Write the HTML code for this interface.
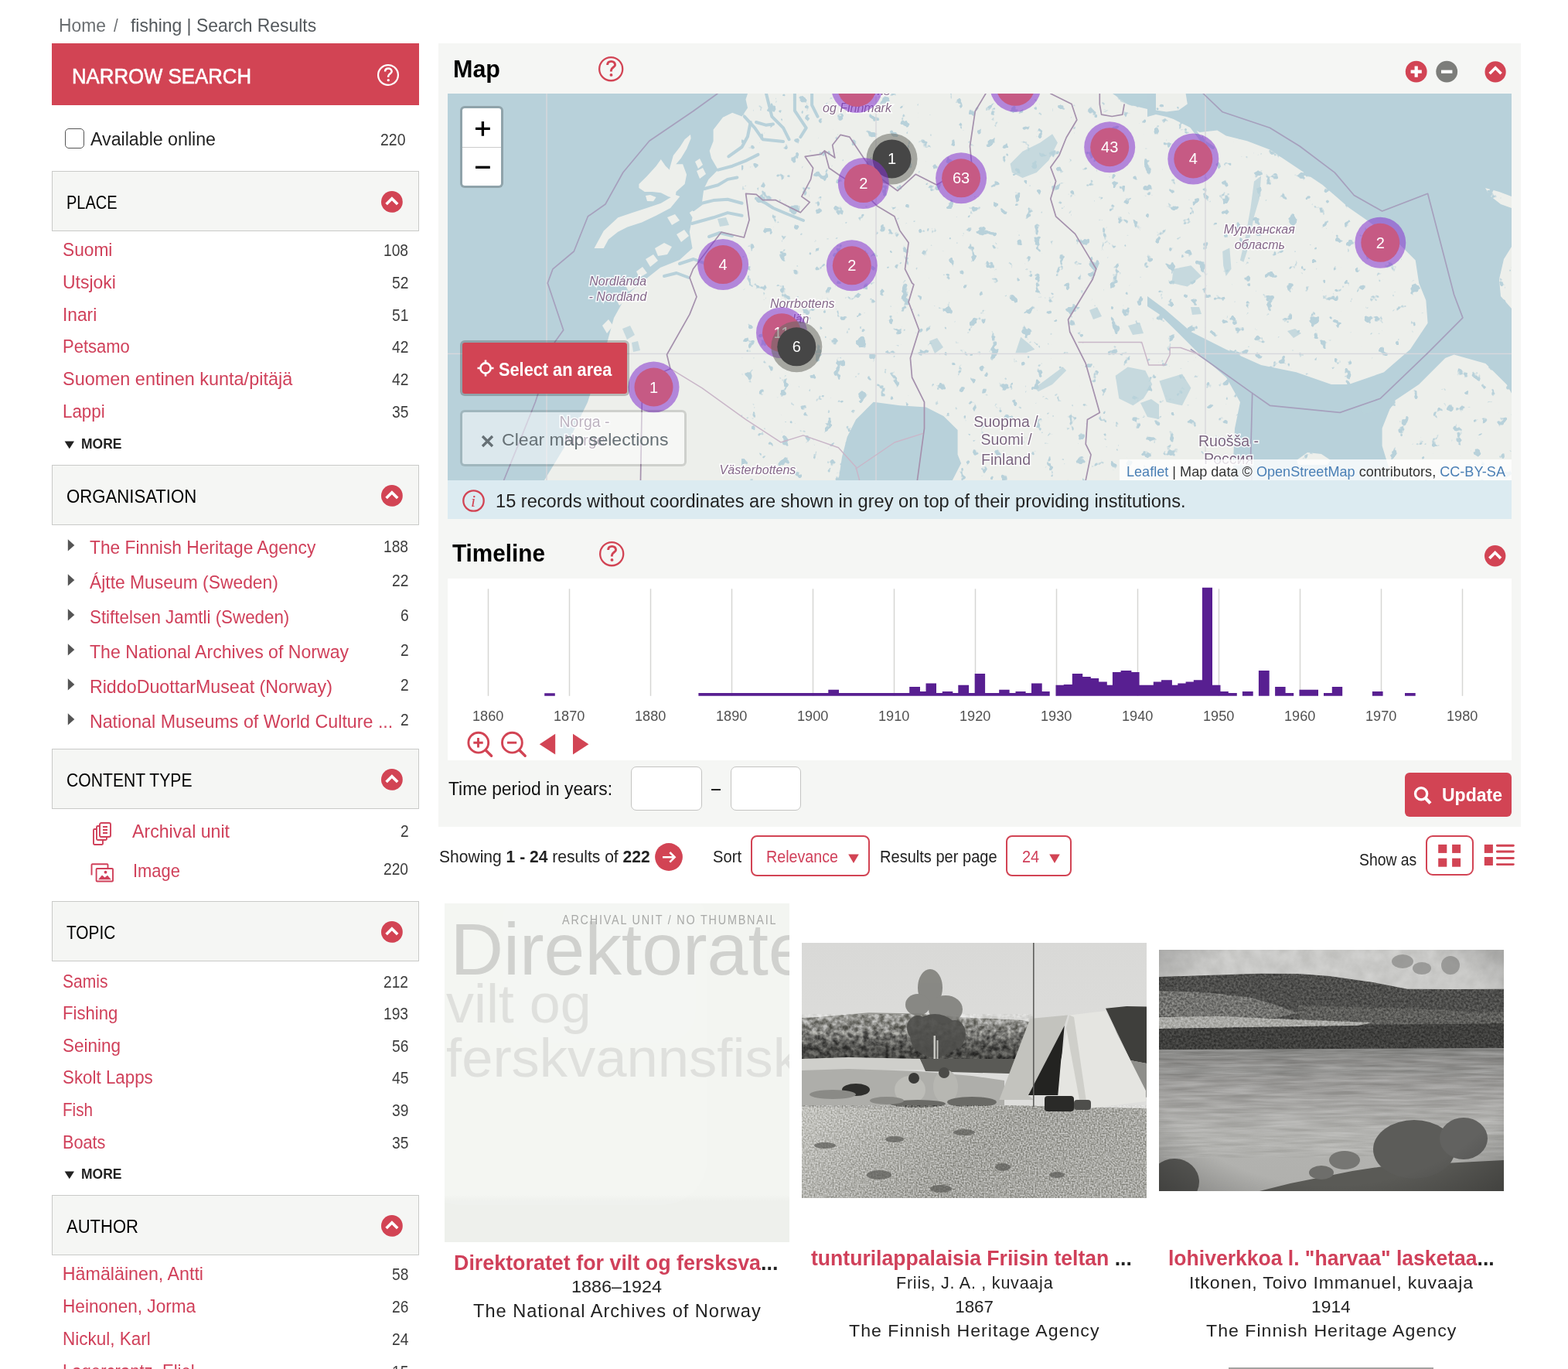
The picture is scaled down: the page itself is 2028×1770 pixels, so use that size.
<!DOCTYPE html>
<html><head><meta charset="utf-8"><title>fishing | Search Results</title>
<style>
html,body{margin:0;padding:0;background:#fff;}
body{width:2028px;height:1770px;overflow:hidden;position:relative;font-family:'Liberation Sans', Arial, sans-serif;}
.t{position:absolute;white-space:nowrap;}
b{font-weight:700;}
</style></head><body>
<div class="t" style="left:76.3px;top:21.5px;font-family:'Liberation Sans', Arial, sans-serif;font-size:23.26px;font-weight:400;line-height:23.26px;color:#6a6e71;transform:scaleX(0.9818);transform-origin:0 0;">Home</div>
<div class="t" style="left:146.6px;top:21.5px;font-family:'Liberation Sans', Arial, sans-serif;font-size:23.26px;font-weight:400;line-height:23.26px;color:#6a6e71;transform:scaleX(0.8812);transform-origin:0 0;">/</div>
<div class="t" style="left:168.6px;top:21.5px;font-family:'Liberation Sans', Arial, sans-serif;font-size:23.26px;font-weight:400;line-height:23.26px;color:#53585c;transform:scaleX(0.9851);transform-origin:0 0;">fishing | Search Results</div>
<div style="position:absolute;left:67.0px;top:56.0px;width:475.0px;height:80.0px;background:#d24454"></div>
<div class="t" style="left:93.4px;top:83.8px;font-family:'Liberation Sans', Arial, sans-serif;font-size:28.34px;font-weight:400;line-height:28.34px;color:#fff;transform:scaleX(0.9099);transform-origin:0 0;-webkit-text-stroke:0.6px #fff;">NARROW SEARCH</div>
<svg style="position:absolute;left:486.0px;top:80.9px" width="32.0" height="32.0" viewBox="-16.0 -16.0 32.0 32.0"><circle r="12.90" fill="none" stroke="#fff" stroke-width="2.2"/><g transform="scale(0.875)"><path d="M-4.5 -5.2C-4.5 -8.5 -2 -9.7 0.4 -9.7C3.3 -9.7 5.3 -7.8 5.3 -5.2C5.3 -2.3 0.2 -1.8 0.2 1.8V3.2" fill="none" stroke="#fff" stroke-width="2.9"/><circle cx="0.3" cy="7.6" r="1.9" fill="#fff"/></g></svg>
<div style="position:absolute;left:84.3px;top:166.3px;width:22.6px;height:23.6px;border:1.5px solid #555;border-radius:5px;background:#fff"></div>
<div class="t" style="left:117.4px;top:168.4px;font-family:'Liberation Sans', Arial, sans-serif;font-size:24.42px;font-weight:400;line-height:24.42px;color:#212121;transform:scaleX(0.9500);transform-origin:0 0;">Available online</div>
<div class="t" style="left:492.2px;top:170.4px;font-family:'Liberation Sans', Arial, sans-serif;font-size:22.09px;font-weight:400;line-height:22.09px;color:#3d3d3d;transform:scaleX(0.8821);transform-origin:0 0;">220</div>
<div style="position:absolute;left:67.0px;top:221.4px;width:475.0px;height:77.2px;background:#f5f6f4;border:1.3px solid #c9cac8;box-sizing:border-box"></div>
<div class="t" style="left:86.3px;top:251.0px;font-family:'Liberation Sans', Arial, sans-serif;font-size:23.26px;font-weight:400;line-height:23.26px;color:#000;transform:scaleX(0.8590);transform-origin:0 0;">PLACE</div>
<svg style="position:absolute;left:491.9px;top:245.8px" width="29.8" height="29.8" viewBox="-14.9 -14.9 29.8 29.8"><circle r="13.9" fill="#d24454"/><path d="M-7.3 3.2 L0 -4.1 L7.3 3.2" stroke="#fff" stroke-width="3.6" fill="none"/></svg>
<div class="t" style="left:80.8px;top:312.3px;font-family:'Liberation Sans', Arial, sans-serif;font-size:23.26px;font-weight:400;line-height:23.26px;color:#d0405a;transform:scaleX(0.9771);transform-origin:0 0;">Suomi</div>
<div class="t" style="left:496.2px;top:313.3px;font-family:'Liberation Sans', Arial, sans-serif;font-size:22.09px;font-weight:400;line-height:22.09px;color:#3d3d3d;transform:scaleX(0.8700);transform-origin:0 0;">108</div>
<div class="t" style="left:80.8px;top:354.0px;font-family:'Liberation Sans', Arial, sans-serif;font-size:23.26px;font-weight:400;line-height:23.26px;color:#d0405a;transform:scaleX(0.9862);transform-origin:0 0;">Utsjoki</div>
<div class="t" style="left:506.9px;top:355.0px;font-family:'Liberation Sans', Arial, sans-serif;font-size:22.09px;font-weight:400;line-height:22.09px;color:#3d3d3d;transform:scaleX(0.8700);transform-origin:0 0;">52</div>
<div class="t" style="left:80.8px;top:395.7px;font-family:'Liberation Sans', Arial, sans-serif;font-size:23.26px;font-weight:400;line-height:23.26px;color:#d0405a;transform:scaleX(0.9771);transform-origin:0 0;">Inari</div>
<div class="t" style="left:506.9px;top:396.7px;font-family:'Liberation Sans', Arial, sans-serif;font-size:22.09px;font-weight:400;line-height:22.09px;color:#3d3d3d;transform:scaleX(0.8700);transform-origin:0 0;">51</div>
<div class="t" style="left:80.8px;top:437.4px;font-family:'Liberation Sans', Arial, sans-serif;font-size:23.26px;font-weight:400;line-height:23.26px;color:#d0405a;transform:scaleX(0.9459);transform-origin:0 0;">Petsamo</div>
<div class="t" style="left:506.9px;top:438.4px;font-family:'Liberation Sans', Arial, sans-serif;font-size:22.09px;font-weight:400;line-height:22.09px;color:#3d3d3d;transform:scaleX(0.8700);transform-origin:0 0;">42</div>
<div class="t" style="left:80.8px;top:479.1px;font-family:'Liberation Sans', Arial, sans-serif;font-size:23.26px;font-weight:400;line-height:23.26px;color:#d0405a;transform:scaleX(1.0084);transform-origin:0 0;">Suomen entinen kunta/pitäjä</div>
<div class="t" style="left:506.9px;top:480.1px;font-family:'Liberation Sans', Arial, sans-serif;font-size:22.09px;font-weight:400;line-height:22.09px;color:#3d3d3d;transform:scaleX(0.8700);transform-origin:0 0;">42</div>
<div class="t" style="left:80.8px;top:520.8px;font-family:'Liberation Sans', Arial, sans-serif;font-size:23.26px;font-weight:400;line-height:23.26px;color:#d0405a;transform:scaleX(0.9615);transform-origin:0 0;">Lappi</div>
<div class="t" style="left:506.9px;top:521.8px;font-family:'Liberation Sans', Arial, sans-serif;font-size:22.09px;font-weight:400;line-height:22.09px;color:#3d3d3d;transform:scaleX(0.8700);transform-origin:0 0;">35</div>
<svg style="position:absolute;left:83px;top:569.6px" width="14" height="11"><path d="M0.6 0.5 L13 0.5 L6.8 10.2Z" fill="#222"/></svg>
<div class="t" style="left:105.3px;top:564.8px;font-family:'Liberation Sans', Arial, sans-serif;font-size:18.75px;font-weight:700;line-height:18.75px;color:#222;transform:scaleX(0.9333);transform-origin:0 0;">MORE</div>
<div style="position:absolute;left:67.0px;top:601.1px;width:475.0px;height:77.7px;background:#f5f6f4;border:1.3px solid #c9cac8;box-sizing:border-box"></div>
<div class="t" style="left:86.3px;top:630.7px;font-family:'Liberation Sans', Arial, sans-serif;font-size:23.26px;font-weight:400;line-height:23.26px;color:#000;transform:scaleX(0.9527);transform-origin:0 0;">ORGANISATION</div>
<svg style="position:absolute;left:491.9px;top:625.5px" width="29.8" height="29.8" viewBox="-14.9 -14.9 29.8 29.8"><circle r="13.9" fill="#d24454"/><path d="M-7.3 3.2 L0 -4.1 L7.3 3.2" stroke="#fff" stroke-width="3.6" fill="none"/></svg>
<svg style="position:absolute;left:86.5px;top:697.4px" width="10" height="16"><path d="M0.8 0.3 L9.3 7.9 L0.8 15.5Z" fill="#555"/></svg>
<div class="t" style="left:115.9px;top:697.3px;font-family:'Liberation Sans', Arial, sans-serif;font-size:23.26px;font-weight:400;line-height:23.26px;color:#d0405a;transform:scaleX(0.9791);transform-origin:0 0;">The Finnish Heritage Agency</div>
<div class="t" style="left:496.2px;top:695.5px;font-family:'Liberation Sans', Arial, sans-serif;font-size:22.09px;font-weight:400;line-height:22.09px;color:#3d3d3d;transform:scaleX(0.8700);transform-origin:0 0;">188</div>
<svg style="position:absolute;left:86.5px;top:742.3px" width="10" height="16"><path d="M0.8 0.3 L9.3 7.9 L0.8 15.5Z" fill="#555"/></svg>
<div class="t" style="left:115.9px;top:742.2px;font-family:'Liberation Sans', Arial, sans-serif;font-size:23.26px;font-weight:400;line-height:23.26px;color:#d0405a;transform:scaleX(0.9830);transform-origin:0 0;">Ájtte Museum (Sweden)</div>
<div class="t" style="left:506.9px;top:740.4px;font-family:'Liberation Sans', Arial, sans-serif;font-size:22.09px;font-weight:400;line-height:22.09px;color:#3d3d3d;transform:scaleX(0.8700);transform-origin:0 0;">22</div>
<svg style="position:absolute;left:86.5px;top:787.2px" width="10" height="16"><path d="M0.8 0.3 L9.3 7.9 L0.8 15.5Z" fill="#555"/></svg>
<div class="t" style="left:115.9px;top:787.1px;font-family:'Liberation Sans', Arial, sans-serif;font-size:23.26px;font-weight:400;line-height:23.26px;color:#d0405a;transform:scaleX(0.9610);transform-origin:0 0;">Stiftelsen Jamtli (Sweden)</div>
<div class="t" style="left:517.6px;top:785.3px;font-family:'Liberation Sans', Arial, sans-serif;font-size:22.09px;font-weight:400;line-height:22.09px;color:#3d3d3d;transform:scaleX(0.8700);transform-origin:0 0;">6</div>
<svg style="position:absolute;left:86.5px;top:832.1px" width="10" height="16"><path d="M0.8 0.3 L9.3 7.9 L0.8 15.5Z" fill="#555"/></svg>
<div class="t" style="left:115.9px;top:832.0px;font-family:'Liberation Sans', Arial, sans-serif;font-size:23.26px;font-weight:400;line-height:23.26px;color:#d0405a;transform:scaleX(0.9935);transform-origin:0 0;">The National Archives of Norway</div>
<div class="t" style="left:517.6px;top:830.2px;font-family:'Liberation Sans', Arial, sans-serif;font-size:22.09px;font-weight:400;line-height:22.09px;color:#3d3d3d;transform:scaleX(0.8700);transform-origin:0 0;">2</div>
<svg style="position:absolute;left:86.5px;top:877.0px" width="10" height="16"><path d="M0.8 0.3 L9.3 7.9 L0.8 15.5Z" fill="#555"/></svg>
<div class="t" style="left:115.9px;top:876.9px;font-family:'Liberation Sans', Arial, sans-serif;font-size:23.26px;font-weight:400;line-height:23.26px;color:#d0405a;">RiddoDuottarMuseat (Norway)</div>
<div class="t" style="left:517.6px;top:875.1px;font-family:'Liberation Sans', Arial, sans-serif;font-size:22.09px;font-weight:400;line-height:22.09px;color:#3d3d3d;transform:scaleX(0.8700);transform-origin:0 0;">2</div>
<svg style="position:absolute;left:86.5px;top:921.9px" width="10" height="16"><path d="M0.8 0.3 L9.3 7.9 L0.8 15.5Z" fill="#555"/></svg>
<div class="t" style="left:115.9px;top:921.8px;font-family:'Liberation Sans', Arial, sans-serif;font-size:23.26px;font-weight:400;line-height:23.26px;color:#d0405a;">National Museums of World Culture ...</div>
<div class="t" style="left:517.6px;top:920.0px;font-family:'Liberation Sans', Arial, sans-serif;font-size:22.09px;font-weight:400;line-height:22.09px;color:#3d3d3d;transform:scaleX(0.8700);transform-origin:0 0;">2</div>
<div style="position:absolute;left:67.0px;top:968.1px;width:475.0px;height:77.7px;background:#f5f6f4;border:1.3px solid #c9cac8;box-sizing:border-box"></div>
<div class="t" style="left:86.3px;top:997.7px;font-family:'Liberation Sans', Arial, sans-serif;font-size:23.26px;font-weight:400;line-height:23.26px;color:#000;transform:scaleX(0.9092);transform-origin:0 0;">CONTENT TYPE</div>
<svg style="position:absolute;left:491.9px;top:992.5px" width="29.8" height="29.8" viewBox="-14.9 -14.9 29.8 29.8"><circle r="13.9" fill="#d24454"/><path d="M-7.3 3.2 L0 -4.1 L7.3 3.2" stroke="#fff" stroke-width="3.6" fill="none"/></svg>
<svg style="position:absolute;left:119px;top:1063px" width="26" height="31" viewBox="0 0 26 31"><g fill="none" stroke="#d0405a" stroke-width="1.9"><rect x="10" y="1" width="14" height="18" rx="2" fill="#fff"/><path d="M14 6h6M14 10h6M14 14h6"/><path d="M10 5H7.5Q6 5 6 6.5V21.5Q6 23 7.5 23H17.5Q19 23 19 21.5V19"/><path d="M6 9H3.2Q2 9 2 10.3V27.8Q2 29 3.2 29H12.8Q14 29 14 27.8V23"/></g></svg>
<div class="t" style="left:170.5px;top:1064.3px;font-family:'Liberation Sans', Arial, sans-serif;font-size:23.26px;font-weight:400;line-height:23.26px;color:#d0405a;transform:scaleX(0.9949);transform-origin:0 0;">Archival unit</div>
<div class="t" style="left:517.6px;top:1063.5px;font-family:'Liberation Sans', Arial, sans-serif;font-size:22.09px;font-weight:400;line-height:22.09px;color:#3d3d3d;transform:scaleX(0.8700);transform-origin:0 0;">2</div>
<svg style="position:absolute;left:116.5px;top:1116px" width="31" height="25" viewBox="0 0 31 25"><g fill="none" stroke="#d0405a" stroke-width="1.9"><path d="M1.5 15.5V2.3Q1.5 1.3 2.5 1.3H21.5Q22.5 1.3 22.5 2.3V6"/><rect x="7.6" y="7" width="21.4" height="16.5" rx="1" fill="#fff"/></g><circle cx="19.5" cy="11.7" r="1.9" fill="#d0405a"/><path d="M10 21.3 L15 15.5 L18.5 18.5 L22 15.8 L26.8 21.3Z" fill="#d0405a"/></svg>
<div class="t" style="left:171.5px;top:1114.5px;font-family:'Liberation Sans', Arial, sans-serif;font-size:23.26px;font-weight:400;line-height:23.26px;color:#d0405a;transform:scaleX(0.9424);transform-origin:0 0;">Image</div>
<div class="t" style="left:496.2px;top:1113.3px;font-family:'Liberation Sans', Arial, sans-serif;font-size:22.09px;font-weight:400;line-height:22.09px;color:#3d3d3d;transform:scaleX(0.8700);transform-origin:0 0;">220</div>
<div style="position:absolute;left:67.0px;top:1165.3px;width:475.0px;height:78.2px;background:#f5f6f4;border:1.3px solid #c9cac8;box-sizing:border-box"></div>
<div class="t" style="left:86.3px;top:1194.9px;font-family:'Liberation Sans', Arial, sans-serif;font-size:23.26px;font-weight:400;line-height:23.26px;color:#000;transform:scaleX(0.8963);transform-origin:0 0;">TOPIC</div>
<svg style="position:absolute;left:491.9px;top:1189.7px" width="29.8" height="29.8" viewBox="-14.9 -14.9 29.8 29.8"><circle r="13.9" fill="#d24454"/><path d="M-7.3 3.2 L0 -4.1 L7.3 3.2" stroke="#fff" stroke-width="3.6" fill="none"/></svg>
<div class="t" style="left:80.8px;top:1257.6px;font-family:'Liberation Sans', Arial, sans-serif;font-size:23.26px;font-weight:400;line-height:23.26px;color:#d0405a;transform:scaleX(0.9039);transform-origin:0 0;">Samis</div>
<div class="t" style="left:496.2px;top:1258.6px;font-family:'Liberation Sans', Arial, sans-serif;font-size:22.09px;font-weight:400;line-height:22.09px;color:#3d3d3d;transform:scaleX(0.8700);transform-origin:0 0;">212</div>
<div class="t" style="left:80.8px;top:1299.2px;font-family:'Liberation Sans', Arial, sans-serif;font-size:23.26px;font-weight:400;line-height:23.26px;color:#d0405a;transform:scaleX(0.9513);transform-origin:0 0;">Fishing</div>
<div class="t" style="left:496.2px;top:1300.2px;font-family:'Liberation Sans', Arial, sans-serif;font-size:22.09px;font-weight:400;line-height:22.09px;color:#3d3d3d;transform:scaleX(0.8700);transform-origin:0 0;">193</div>
<div class="t" style="left:80.8px;top:1340.8px;font-family:'Liberation Sans', Arial, sans-serif;font-size:23.26px;font-weight:400;line-height:23.26px;color:#d0405a;transform:scaleX(0.9657);transform-origin:0 0;">Seining</div>
<div class="t" style="left:506.9px;top:1341.8px;font-family:'Liberation Sans', Arial, sans-serif;font-size:22.09px;font-weight:400;line-height:22.09px;color:#3d3d3d;transform:scaleX(0.8700);transform-origin:0 0;">56</div>
<div class="t" style="left:80.8px;top:1382.4px;font-family:'Liberation Sans', Arial, sans-serif;font-size:23.26px;font-weight:400;line-height:23.26px;color:#d0405a;transform:scaleX(0.9613);transform-origin:0 0;">Skolt Lapps</div>
<div class="t" style="left:506.9px;top:1383.4px;font-family:'Liberation Sans', Arial, sans-serif;font-size:22.09px;font-weight:400;line-height:22.09px;color:#3d3d3d;transform:scaleX(0.8700);transform-origin:0 0;">45</div>
<div class="t" style="left:80.8px;top:1424.0px;font-family:'Liberation Sans', Arial, sans-serif;font-size:23.26px;font-weight:400;line-height:23.26px;color:#d0405a;transform:scaleX(0.8876);transform-origin:0 0;">Fish</div>
<div class="t" style="left:506.9px;top:1425.0px;font-family:'Liberation Sans', Arial, sans-serif;font-size:22.09px;font-weight:400;line-height:22.09px;color:#3d3d3d;transform:scaleX(0.8700);transform-origin:0 0;">39</div>
<div class="t" style="left:80.8px;top:1465.6px;font-family:'Liberation Sans', Arial, sans-serif;font-size:23.26px;font-weight:400;line-height:23.26px;color:#d0405a;transform:scaleX(0.9316);transform-origin:0 0;">Boats</div>
<div class="t" style="left:506.9px;top:1466.6px;font-family:'Liberation Sans', Arial, sans-serif;font-size:22.09px;font-weight:400;line-height:22.09px;color:#3d3d3d;transform:scaleX(0.8700);transform-origin:0 0;">35</div>
<svg style="position:absolute;left:83px;top:1514.0px" width="14" height="11"><path d="M0.6 0.5 L13 0.5 L6.8 10.2Z" fill="#222"/></svg>
<div class="t" style="left:105.3px;top:1509.2px;font-family:'Liberation Sans', Arial, sans-serif;font-size:18.75px;font-weight:700;line-height:18.75px;color:#222;transform:scaleX(0.9333);transform-origin:0 0;">MORE</div>
<div style="position:absolute;left:67.0px;top:1545.4px;width:475.0px;height:77.2px;background:#f5f6f4;border:1.3px solid #c9cac8;box-sizing:border-box"></div>
<div class="t" style="left:86.3px;top:1575.0px;font-family:'Liberation Sans', Arial, sans-serif;font-size:23.26px;font-weight:400;line-height:23.26px;color:#000;transform:scaleX(0.9473);transform-origin:0 0;">AUTHOR</div>
<svg style="position:absolute;left:491.9px;top:1569.8px" width="29.8" height="29.8" viewBox="-14.9 -14.9 29.8 29.8"><circle r="13.9" fill="#d24454"/><path d="M-7.3 3.2 L0 -4.1 L7.3 3.2" stroke="#fff" stroke-width="3.6" fill="none"/></svg>
<div class="t" style="left:80.8px;top:1636.2px;font-family:'Liberation Sans', Arial, sans-serif;font-size:23.26px;font-weight:400;line-height:23.26px;color:#d0405a;">Hämäläinen, Antti</div>
<div class="t" style="left:506.9px;top:1637.2px;font-family:'Liberation Sans', Arial, sans-serif;font-size:22.09px;font-weight:400;line-height:22.09px;color:#3d3d3d;transform:scaleX(0.8700);transform-origin:0 0;">58</div>
<div class="t" style="left:80.8px;top:1678.0px;font-family:'Liberation Sans', Arial, sans-serif;font-size:23.26px;font-weight:400;line-height:23.26px;color:#d0405a;transform:scaleX(0.9725);transform-origin:0 0;">Heinonen, Jorma</div>
<div class="t" style="left:506.9px;top:1679.0px;font-family:'Liberation Sans', Arial, sans-serif;font-size:22.09px;font-weight:400;line-height:22.09px;color:#3d3d3d;transform:scaleX(0.8700);transform-origin:0 0;">26</div>
<div class="t" style="left:80.8px;top:1719.8px;font-family:'Liberation Sans', Arial, sans-serif;font-size:23.26px;font-weight:400;line-height:23.26px;color:#d0405a;transform:scaleX(0.9679);transform-origin:0 0;">Nickul, Karl</div>
<div class="t" style="left:506.9px;top:1720.8px;font-family:'Liberation Sans', Arial, sans-serif;font-size:22.09px;font-weight:400;line-height:22.09px;color:#3d3d3d;transform:scaleX(0.8700);transform-origin:0 0;">24</div>
<div class="t" style="left:80.8px;top:1761.6px;font-family:'Liberation Sans', Arial, sans-serif;font-size:23.26px;font-weight:400;line-height:23.26px;color:#d0405a;transform:scaleX(0.9502);transform-origin:0 0;">Lagercrantz, Eliel</div>
<div class="t" style="left:506.9px;top:1762.6px;font-family:'Liberation Sans', Arial, sans-serif;font-size:22.09px;font-weight:400;line-height:22.09px;color:#3d3d3d;transform:scaleX(0.8700);transform-origin:0 0;">15</div>
<div style="position:absolute;left:567.0px;top:56.0px;width:1400.0px;height:1012.7px;background:#f5f6f4"></div>
<div class="t" style="left:585.5px;top:73.7px;font-family:'Liberation Sans', Arial, sans-serif;font-size:31.10px;font-weight:700;line-height:31.10px;color:#000;transform:scaleX(0.9809);transform-origin:0 0;">Map</div>
<svg style="position:absolute;left:771.7px;top:70.9px" width="36.4" height="36.4" viewBox="-18.2 -18.2 36.4 36.4"><circle r="15.05" fill="none" stroke="#d24454" stroke-width="2.3"/><g transform="scale(1.012)"><path d="M-4.5 -5.2C-4.5 -8.5 -2 -9.7 0.4 -9.7C3.3 -9.7 5.3 -7.8 5.3 -5.2C5.3 -2.3 0.2 -1.8 0.2 1.8V3.2" fill="none" stroke="#d24454" stroke-width="2.9"/><circle cx="0.3" cy="7.6" r="1.9" fill="#d24454"/></g></svg>
<svg style="position:absolute;left:1816px;top:77px" width="134" height="32" viewBox="1816 77 134 32"><circle cx="1831.7" cy="92.7" r="13.9" fill="#d24454"/><path d="M1824.6 92.7h14.2M1831.7 85.6v14.2" stroke="#fff" stroke-width="4.2"/><circle cx="1871.2" cy="92.7" r="13.9" fill="#7c7d7a"/><path d="M1864 92.7h14.4" stroke="#fff" stroke-width="4.2"/><circle cx="1934.1" cy="92.9" r="13.6" fill="#d24454"/><path d="M1926.6 95.3 L1934.1 87.8 L1941.6 95.3" stroke="#fff" stroke-width="3.6" fill="none"/></svg>
<div style="position:absolute;left:579px;top:121px;width:1376px;height:500px;overflow:hidden"><svg width="1376" height="500" viewBox="0 0 1376 500" style="position:absolute;left:0;top:0"><defs><filter id="lk" x="0" y="0" width="100%" height="100%" color-interpolation-filters="sRGB"><feTurbulence type="fractalNoise" baseFrequency="0.07" numOctaves="3" seed="4" result="n"/><feColorMatrix in="n" type="matrix" values="0 0 0 0 0.722  0 0 0 0 0.82  0 0 0 0 0.855  18 0 0 0 -12.1"/></filter></defs><rect width="1376" height="500" fill="#edefeb"/><polygon points="0.0,0.0 388.0,0.0 385.5,7.4 388.0,18.5 380.6,29.6 368.2,24.7 355.9,30.8 343.6,46.8 343.6,61.6 338.7,74.0 341.1,83.8 349.7,98.6 337.4,110.9 331.3,123.3 328.8,141.8 312.8,154.1 316.5,160.3 312.8,178.7 316.5,200.0 300.0,215.0 275.0,225.0 256.0,240.0 238.0,255.0 225.0,272.0 215.0,290.0 204.0,330.0 192.0,365.0 181.0,399.0 159.0,444.0 125.0,500.0 0.0,500.0" fill="#b8d1da" /><polygon points="860.0,0.0 1376.0,0.0 1376.0,500.0 1016.0,500.0 1016.0,474.0 1018.0,433.0 1025.0,399.0 1007.0,367.0 973.0,337.5 939.0,303.5 920.0,285.0 905.0,275.0 905.0,20.0 880.0,14.0" fill="#b8d1da" /><polygon points="505.4,500.0 510.0,470.0 516.7,444.1 528.0,421.4 550.7,398.8 584.7,403.3 618.8,405.6 641.4,416.9 659.6,435.0 659.6,466.8 664.1,478.1 652.8,500.0" fill="#b8d1da" /><polygon points="905.0,30.0 916.0,27.0 930.0,30.0 938.7,33.0 972.7,49.9 995.4,47.6 1006.7,54.4 1033.9,61.2 1063.4,72.6 1097.4,95.3 1131.5,117.9 1165.5,147.4 1188.2,163.3 1229.0,192.8 1251.7,215.5 1256.2,245.0 1265.3,267.2 1267.6,296.7 1244.9,330.7 1210.9,360.2 1165.5,376.1 1142.8,376.1 1097.5,360.2 1052.1,351.1 1006.7,330.7 961.4,308.0 927.3,278.6 905.0,262.0" fill="#edefeb" /><polygon points="916.0,0.0 954.6,0.0 956.8,13.6 945.5,21.5 929.6,23.5 916.0,21.5" fill="#edefeb" /><polygon points="1222.2,500.0 1208.6,455.5 1208.6,432.8 1222.2,398.8 1256.2,376.1 1290.2,342.0 1301.6,337.5 1342.4,348.9 1369.6,376.1 1376.0,387.4 1376.0,500.0" fill="#edefeb" /><polygon points="1342.0,122.0 1360.0,127.0 1376.0,133.0 1376.0,148.0 1362.0,143.0 1348.0,132.0" fill="#edefeb" /><polygon points="1376.0,198.0 1366.0,214.0 1360.0,240.0 1362.0,262.0 1376.0,278.0" fill="#edefeb" /><polygon points="1098.0,474.0 1112.0,464.0 1130.0,466.0 1142.0,474.0 1138.0,480.0 1100.0,480.0" fill="#edefeb" /><polygon points="189.5,200.0 201.8,177.5 220.3,160.3 238.8,154.1 257.3,147.9 275.8,141.8 294.3,130.7 300.4,133.1 288.1,147.9 269.6,157.8 251.1,166.4 232.6,172.6 220.3,178.7 208.0,188.6 201.8,200.0" fill="#edefeb" /><polygon points="247.4,117.1 257.3,107.2 269.6,93.7 275.8,85.1 281.9,93.7 286.9,98.6 294.3,91.2 304.1,91.2 309.1,104.8 306.6,117.1 295.5,127.0 294.3,135.6 285.6,133.2 275.8,128.2 264.7,127.0 254.8,127.0 247.4,122.0" fill="#edefeb" /><polygon points="286.9,97.4 291.8,80.1 300.4,69.0 306.6,59.2 314.0,53.0 314.6,57.9 309.1,71.5 301.7,83.8 294.3,92.5 289.3,99.9" fill="#edefeb" /><polygon points="256.0,132.0 262.0,131.0 269.6,134.0 266.0,139.3 258.0,139.0" fill="#edefeb" /><polygon points="320.0,88.0 326.0,84.0 330.0,92.0 324.0,97.0" fill="#edefeb" /><polygon points="322.0,100.0 330.0,96.0 334.0,104.0 326.0,110.0" fill="#edefeb" /><polygon points="268.0,200.0 280.0,193.0 290.0,198.0 284.0,208.0 272.0,210.0" fill="#edefeb" /><polygon points="256.0,214.0 266.0,208.0 272.0,216.0 262.0,224.0" fill="#edefeb" /><polygon points="244.0,230.0 252.0,224.0 258.0,232.0 248.0,238.0" fill="#edefeb" /><polygon points="230.0,248.0 238.0,242.0 244.0,250.0 234.0,256.0" fill="#edefeb" /><polygon points="218.0,266.0 226.0,260.0 230.0,268.0 222.0,274.0" fill="#edefeb" /><polygon points="200.0,300.0 208.0,292.0 214.0,300.0 206.0,310.0" fill="#edefeb" /><polygon points="190.0,352.0 198.0,344.0 204.0,352.0 196.0,362.0" fill="#edefeb" /><polygon points="296.0,182.0 306.0,176.0 312.0,184.0 302.0,192.0" fill="#edefeb" /><polygon points="284.0,160.0 294.0,156.0 300.0,164.0 290.0,170.0" fill="#edefeb" /><rect x="380" y="0" width="996" height="500" filter="url(#lk)"/><polygon points="727.6,90.7 743.5,74.8 766.2,63.5 782.1,52.2 788.9,63.5 777.5,86.2 761.7,102.1 743.5,108.9 729.9,102.1" fill="#b8d1da" fill-opacity="0.75"/><polygon points="863.7,364.7 879.6,353.4 902.3,357.9 911.3,376.1 900.0,394.2 886.4,403.3 868.3,394.2" fill="#b8d1da" fill-opacity="0.75"/><polygon points="896.0,400.0 910.0,395.0 920.0,402.0 920.0,421.0 905.0,418.0" fill="#b8d1da" fill-opacity="0.75"/><polygon points="759.4,380.6 777.5,367.0 795.7,353.4 800.2,357.9 782.1,376.1 763.9,385.2" fill="#b8d1da" fill-opacity="0.75"/><polygon points="734.4,335.3 741.2,314.8 752.5,323.9 759.4,330.7 748.0,335.3" fill="#b8d1da" fill-opacity="0.75"/><polygon points="1043.0,113.4 1052.1,106.6 1049.8,136.1 1043.0,158.8 1038.5,181.4 1033.9,204.1 1029.4,217.7 1024.9,215.5 1031.7,186.0 1038.5,147.4" fill="#b8d1da" fill-opacity="0.75"/><polygon points="1002.2,204.1 1011.3,199.6 1013.5,226.8 1006.7,235.9 1003.2,222.3" fill="#b8d1da" fill-opacity="0.75"/><polygon points="938.7,226.8 961.4,222.3 975.0,235.9 956.8,249.5 936.4,245.0" fill="#b8d1da" fill-opacity="0.75"/><polygon points="920.5,371.5 950.0,362.5 961.4,380.6 950.0,403.3 929.6,398.8" fill="#b8d1da" fill-opacity="0.75"/><polygon points="961.0,276.0 972.0,276.0 975.0,285.0 963.0,286.0" fill="#b8d1da" fill-opacity="0.75"/><polygon points="1086.0,307.0 1096.0,304.0 1104.0,310.0 1094.0,316.0" fill="#b8d1da" fill-opacity="0.75"/><polygon points="868.0,0.0 905.0,0.0 905.0,10.0 885.0,16.0 870.0,10.0" fill="#b8d1da" fill-opacity="0.75"/><polygon points="623.0,320.0 633.0,316.0 641.0,328.0 630.0,336.0" fill="#b8d1da" fill-opacity="0.75"/><polygon points="226.0,304.0 236.0,300.0 242.0,312.0 232.0,318.0" fill="#b8d1da" fill-opacity="0.75"/><polygon points="238.0,322.0 246.0,320.0 249.0,332.0 240.0,334.0" fill="#b8d1da" fill-opacity="0.75"/><polygon points="349.0,162.0 360.0,160.0 364.0,170.0 352.0,172.0" fill="#b8d1da" fill-opacity="0.75"/><polygon points="830.0,280.0 840.0,276.0 846.0,288.0 835.0,292.0" fill="#b8d1da" fill-opacity="0.75"/><polygon points="880.0,300.0 895.0,296.0 900.0,310.0 886.0,312.0" fill="#b8d1da" fill-opacity="0.75"/><polygon points="1180.0,404.0 1192.0,400.0 1196.0,412.0 1184.0,414.0" fill="#b8d1da" fill-opacity="0.75"/><polyline points="363.3,81.4 380.6,69.0 388.0,55.5 391.7,37.0" fill="none" stroke="#b8d1da" stroke-width="4" stroke-linejoin="round" stroke-linecap="round" /><polyline points="349.7,98.6 368.2,93.7 386.7,86.3 401.5,78.9" fill="none" stroke="#b8d1da" stroke-width="4" stroke-linejoin="round" stroke-linecap="round" /><polyline points="331.3,123.3 349.7,118.3 362.1,110.9 374.4,108.5" fill="none" stroke="#b8d1da" stroke-width="4" stroke-linejoin="round" stroke-linecap="round" /><polyline points="318.0,150.0 328.8,141.8 343.6,138.1 362.1,136.8 380.6,141.8" fill="none" stroke="#b8d1da" stroke-width="4" stroke-linejoin="round" stroke-linecap="round" /><polyline points="399.0,135.6 411.4,141.8 421.0,148.0 440.0,156.0 460.0,164.0" fill="none" stroke="#b8d1da" stroke-width="4" stroke-linejoin="round" stroke-linecap="round" /><polyline points="316.0,168.0 343.6,160.3 362.1,154.1 380.6,157.8" fill="none" stroke="#b8d1da" stroke-width="4" stroke-linejoin="round" stroke-linecap="round" /><polyline points="399.0,37.0 411.4,40.7 421.0,39.4" fill="none" stroke="#b8d1da" stroke-width="4" stroke-linejoin="round" stroke-linecap="round" /><polyline points="383.8,29.6 397.2,44.4 407.5,59.2 434.1,62.1" fill="none" stroke="#b8d1da" stroke-width="4" stroke-linejoin="round" stroke-linecap="round" /><polyline points="412.0,0.0 419.3,29.6 434.1,44.4 441.5,59.2" fill="none" stroke="#b8d1da" stroke-width="4" stroke-linejoin="round" stroke-linecap="round" /><polyline points="448.9,0.0 448.9,22.2 463.7,44.4 456.3,56.2" fill="none" stroke="#b8d1da" stroke-width="4" stroke-linejoin="round" stroke-linecap="round" /><polyline points="471.1,0.0 471.1,14.8 478.5,29.6" fill="none" stroke="#b8d1da" stroke-width="4" stroke-linejoin="round" stroke-linecap="round" /><polyline points="338.0,185.0 352.0,180.0 368.0,184.0" fill="none" stroke="#b8d1da" stroke-width="4" stroke-linejoin="round" stroke-linecap="round" /><polyline points="300.0,220.0 318.0,214.0 334.0,220.0" fill="none" stroke="#b8d1da" stroke-width="4" stroke-linejoin="round" stroke-linecap="round" /><polyline points="280.0,236.0 296.0,232.0 312.0,238.0" fill="none" stroke="#b8d1da" stroke-width="4" stroke-linejoin="round" stroke-linecap="round" /><polyline points="960.0,40.0 975.0,60.0 990.0,70.0" fill="none" stroke="#b8d1da" stroke-width="4" stroke-linejoin="round" stroke-linecap="round" /><rect x="127.3" y="0" width="1.4" height="500" fill="#d8d7dc"/><rect x="553.3" y="0" width="1.4" height="500" fill="#d8d7dc"/><rect x="979.3" y="0" width="1.4" height="500" fill="#d8d7dc"/><rect x="0" y="335.7" width="1376" height="1.4" fill="#d8d7dc"/><polyline points="349.0,0.0 317.5,22.7 260.8,61.2 226.8,102.0 204.0,143.0 181.4,158.8 163.3,204.0 136.0,226.8 129.3,245.0 149.7,305.8 138.4,321.6 113.4,398.8 95.3,444.1 72.6,500.0" fill="none" stroke="#a6a0bd" stroke-width="1.7" stroke-linejoin="round" stroke-linecap="round" /><polyline points="977.2,0.0 1002.2,23.8 1063.4,44.2 1102.0,68.0 1147.3,102.1 1172.3,131.5 1208.6,152.0 1267.6,129.3 1301.6,260.0 1312.9,289.9 1267.6,335.3 1206.3,394.2 1154.1,412.4 1063.4,403.3 1040.7,387.4 961.4,330.7" fill="none" stroke="#a6a0bd" stroke-width="1.7" stroke-linejoin="round" stroke-linecap="round" /><polyline points="1040.7,387.4 1038.5,473.6 1040.0,500.0" fill="none" stroke="#a6a0bd" stroke-width="1.7" stroke-linejoin="round" stroke-linecap="round" /><polyline points="816.0,321.6 897.7,321.6 906.8,351.0 927.3,351.1 934.1,337.5 934.1,328.5 947.8,328.5 972.7,337.5" fill="none" stroke="#c9b6c8" stroke-width="1.5" stroke-linejoin="round" stroke-linecap="round" /><polyline points="288.0,355.7 328.9,380.6 385.6,421.4 430.9,450.9 460.0,441.9 505.4,457.7 528.0,482.7 532.6,500.0" fill="none" stroke="#c9b6c8" stroke-width="1.5" stroke-linejoin="round" stroke-linecap="round" /><polyline points="528.0,485.0 578.0,451.0 614.0,439.6" fill="none" stroke="#c9b6c8" stroke-width="1.5" stroke-linejoin="round" stroke-linecap="round" /><polyline points="249.5,500.0 251.8,371.5 288.0,355.7 283.5,337.5 313.0,285.4 322.0,262.7 313.0,238.0 317.5,226.8 353.8,179.2 383.3,186.0 390.1,163.3 385.6,129.3 399.2,130.4 407.5,137.6 423.8,137.6 456.3,153.8 468.2,140.5 457.8,133.1 469.6,110.9 472.6,96.2 462.2,81.4 483.0,78.4 487.4,74.0 500.7,82.8" fill="none" stroke="#a591ad" stroke-width="1.7" stroke-linejoin="round" stroke-linecap="round" /><polyline points="487.4,74.0 493.3,96.2 508.1,106.5 530.0,120.0 555.3,145.2 577.9,158.8 584.7,176.9 596.1,192.8 591.5,226.8 600.6,245.0 602.9,246.8 596.1,269.5 609.7,305.8 598.4,342.0 600.6,367.0 616.5,398.8 616.5,432.8 607.4,500.0" fill="none" stroke="#a591ad" stroke-width="1.7" stroke-linejoin="round" stroke-linecap="round" /><polyline points="500.7,82.8 497.7,66.6 508.1,53.3 519.9,56.2 537.7,82.8 552.5,103.6 571.7,118.3 582.0,125.7 605.2,104.3 632.4,118.0 677.7,90.7 675.5,68.0 682.3,22.7 695.9,0.0" fill="none" stroke="#a591ad" stroke-width="1.7" stroke-linejoin="round" stroke-linecap="round" /><polyline points="779.8,0.0 807.0,13.6 813.8,34.0 800.2,56.7 791.1,79.4 779.8,95.3 786.6,113.4 779.8,136.0 786.6,158.8 811.5,181.4 825.2,204.1 838.8,226.8 834.2,240.0 802.5,292.2 804.7,308.0 825.2,348.9 843.3,412.4 827.4,421.4 825.2,453.2 832.0,466.8 825.2,500.0" fill="none" stroke="#a591ad" stroke-width="1.7" stroke-linejoin="round" stroke-linecap="round" /><polyline points="843.3,0.0 843.3,13.6 845.6,27.2 859.2,29.5 872.8,27.2 875.1,14.0" fill="none" stroke="#a591ad" stroke-width="1.7" stroke-linejoin="round" stroke-linecap="round" /><text x="485" y="24" text-anchor="start" font-family="Liberation Sans, sans-serif" font-size="16" style="font-style:italic;font-weight:400;paint-order:stroke" stroke="rgba(255,255,255,0.85)" stroke-width="3" fill="#85688a">og Finnmark</text><text x="528" y="2" text-anchor="start" font-family="Liberation Sans, sans-serif" font-size="16" style="font-style:italic;font-weight:400;paint-order:stroke" stroke="rgba(255,255,255,0.85)" stroke-width="3" fill="#85688a">Troms</text><text x="183.3" y="248.4" text-anchor="start" font-family="Liberation Sans, sans-serif" font-size="16" style="font-style:italic;font-weight:400;paint-order:stroke" stroke="rgba(255,255,255,0.85)" stroke-width="3" fill="#85688a">Nordlánda</text><text x="182.6" y="268.4" text-anchor="start" font-family="Liberation Sans, sans-serif" font-size="16" style="font-style:italic;font-weight:400;paint-order:stroke" stroke="rgba(255,255,255,0.85)" stroke-width="3" fill="#85688a">- Nordland</text><text x="417" y="277.4" text-anchor="start" font-family="Liberation Sans, sans-serif" font-size="16" style="font-style:italic;font-weight:400;paint-order:stroke" stroke="rgba(255,255,255,0.85)" stroke-width="3" fill="#85688a">Norrbottens</text><text x="446" y="296.5" text-anchor="start" font-family="Liberation Sans, sans-serif" font-size="16" style="font-style:italic;font-weight:400;paint-order:stroke" stroke="rgba(255,255,255,0.85)" stroke-width="3" fill="#85688a">län</text><text x="351.6" y="491.8" text-anchor="start" font-family="Liberation Sans, sans-serif" font-size="16" style="font-style:italic;font-weight:400;paint-order:stroke" stroke="rgba(255,255,255,0.85)" stroke-width="3" fill="#85688a">Västerbottens</text><text x="1049.8" y="181.4" text-anchor="middle" font-family="Liberation Sans, sans-serif" font-size="16" style="font-style:italic;font-weight:400;paint-order:stroke" stroke="rgba(255,255,255,0.85)" stroke-width="3" fill="#85688a">Мурманская</text><text x="1050.3" y="200.7" text-anchor="middle" font-family="Liberation Sans, sans-serif" font-size="16" style="font-style:italic;font-weight:400;paint-order:stroke" stroke="rgba(255,255,255,0.85)" stroke-width="3" fill="#85688a">область</text><text x="722" y="430.5" text-anchor="middle" font-family="Liberation Sans, sans-serif" font-size="19.5" style="font-weight:400;paint-order:stroke" stroke="rgba(255,255,255,0.85)" stroke-width="3" fill="#7b6680">Suopma /</text><text x="722.5" y="454.3" text-anchor="middle" font-family="Liberation Sans, sans-serif" font-size="19.5" style="font-weight:400;paint-order:stroke" stroke="rgba(255,255,255,0.85)" stroke-width="3" fill="#7b6680">Suomi /</text><text x="722" y="480.4" text-anchor="middle" font-family="Liberation Sans, sans-serif" font-size="19.5" style="font-weight:400;paint-order:stroke" stroke="rgba(255,255,255,0.85)" stroke-width="3" fill="#7b6680">Finland</text><text x="1010" y="455.5" text-anchor="middle" font-family="Liberation Sans, sans-serif" font-size="19.5" style="font-weight:400;paint-order:stroke" stroke="rgba(255,255,255,0.85)" stroke-width="3" fill="#7b6680">Ruošša -</text><text x="1010" y="479.3" text-anchor="middle" font-family="Liberation Sans, sans-serif" font-size="19.5" style="font-weight:400;paint-order:stroke" stroke="rgba(255,255,255,0.85)" stroke-width="3" fill="#7b6680">Россия</text><text x="177" y="430.5" text-anchor="middle" font-family="Liberation Sans, sans-serif" font-size="19.5" style="font-weight:400;paint-order:stroke" stroke="rgba(255,255,255,0.85)" stroke-width="3" fill="#7b6680">Norga -</text><text x="177" y="455" text-anchor="middle" font-family="Liberation Sans, sans-serif" font-size="19.5" style="font-weight:400;paint-order:stroke" stroke="rgba(255,255,255,0.85)" stroke-width="3" fill="#7b6680">Norge</text><circle cx="529.2" cy="-8" r="33" fill="rgba(132,52,205,0.56)"/><circle cx="529.2" cy="-8" r="25" fill="#c65a84"/><text x="529.2" y="-1" text-anchor="middle" font-family="Liberation Sans, sans-serif" font-size="20" fill="#fff"></text><circle cx="734.4" cy="-9.2" r="33" fill="rgba(132,52,205,0.56)"/><circle cx="734.4" cy="-9.2" r="25" fill="#c65a84"/><text x="734.4" y="-2.1999999999999993" text-anchor="middle" font-family="Liberation Sans, sans-serif" font-size="20" fill="#fff"></text><circle cx="574.5" cy="84.4" r="33" fill="rgba(105,106,98,0.55)"/><circle cx="574.5" cy="84.4" r="25" fill="#464646"/><text x="574.5" y="91.4" text-anchor="middle" font-family="Liberation Sans, sans-serif" font-size="20" fill="#fff">1</text><circle cx="537.8" cy="116.1" r="33" fill="rgba(132,52,205,0.56)"/><circle cx="537.8" cy="116.1" r="25" fill="#c65a84"/><text x="537.8" y="123.1" text-anchor="middle" font-family="Liberation Sans, sans-serif" font-size="20" fill="#fff">2</text><circle cx="664.1" cy="109.3" r="33" fill="rgba(132,52,205,0.56)"/><circle cx="664.1" cy="109.3" r="25" fill="#c65a84"/><text x="664.1" y="116.3" text-anchor="middle" font-family="Liberation Sans, sans-serif" font-size="20" fill="#fff">63</text><circle cx="856.2" cy="69.2" r="33" fill="rgba(132,52,205,0.56)"/><circle cx="856.2" cy="69.2" r="25" fill="#c65a84"/><text x="856.2" y="76.2" text-anchor="middle" font-family="Liberation Sans, sans-serif" font-size="20" fill="#fff">43</text><circle cx="964.3" cy="84.4" r="33" fill="rgba(132,52,205,0.56)"/><circle cx="964.3" cy="84.4" r="25" fill="#c65a84"/><text x="964.3" y="91.4" text-anchor="middle" font-family="Liberation Sans, sans-serif" font-size="20" fill="#fff">4</text><circle cx="1206.3" cy="192.8" r="33" fill="rgba(132,52,205,0.56)"/><circle cx="1206.3" cy="192.8" r="25" fill="#c65a84"/><text x="1206.3" y="199.8" text-anchor="middle" font-family="Liberation Sans, sans-serif" font-size="20" fill="#fff">2</text><circle cx="356.1" cy="221.1" r="33" fill="rgba(132,52,205,0.56)"/><circle cx="356.1" cy="221.1" r="25" fill="#c65a84"/><text x="356.1" y="228.1" text-anchor="middle" font-family="Liberation Sans, sans-serif" font-size="20" fill="#fff">4</text><circle cx="522.8" cy="222.3" r="33" fill="rgba(132,52,205,0.56)"/><circle cx="522.8" cy="222.3" r="25" fill="#c65a84"/><text x="522.8" y="229.3" text-anchor="middle" font-family="Liberation Sans, sans-serif" font-size="20" fill="#fff">2</text><circle cx="432" cy="309.2" r="33" fill="rgba(132,52,205,0.56)"/><circle cx="432" cy="309.2" r="25" fill="#c65a84"/><text x="432" y="316.2" text-anchor="middle" font-family="Liberation Sans, sans-serif" font-size="20" fill="#fff">11</text><circle cx="451.3" cy="327.3" r="33" fill="rgba(105,106,98,0.55)"/><circle cx="451.3" cy="327.3" r="25" fill="#464646"/><text x="451.3" y="334.3" text-anchor="middle" font-family="Liberation Sans, sans-serif" font-size="20" fill="#fff">6</text><circle cx="266.5" cy="379.5" r="33" fill="rgba(132,52,205,0.56)"/><circle cx="266.5" cy="379.5" r="25" fill="#c65a84"/><text x="266.5" y="386.5" text-anchor="middle" font-family="Liberation Sans, sans-serif" font-size="20" fill="#fff">1</text></svg><div style="position:absolute;left:16.3px;top:16.3px;width:55.8px;height:106.2px;box-sizing:border-box;border:3px solid rgba(0,0,0,0.22);border-radius:6px;background:#fff;background-clip:padding-box"></div><div style="position:absolute;left:19.3px;top:68.7px;width:49.8px;height:1.3px;background:#ccc"></div><svg style="position:absolute;left:19px;top:19px" width="50" height="101" viewBox="0 0 50 101"><path d="M17 26.4h18.8M26.4 17v18.8" stroke="#000" stroke-width="3.3"/><path d="M17 76.3h18.8" stroke="#000" stroke-width="3.3"/></svg><div style="position:absolute;left:16.3px;top:319.4px;width:218.4px;height:71.5px;box-sizing:border-box;border:3px solid rgba(0,0,0,0.22);border-radius:6px;background:#d24454;background-clip:padding-box"></div><svg style="position:absolute;left:38px;top:344px" width="22" height="22" viewBox="-11 -11 22 22"><circle r="6.6" fill="none" stroke="#fff" stroke-width="2.6"/><path d="M0 -10.5v5.2M0 5.3v5.2M-10.5 0h5.2M5.3 0h5.2" stroke="#fff" stroke-width="2.6"/></svg><div style="position:absolute;left:16.3px;top:409px;width:292.7px;height:72.5px;box-sizing:border-box;border:3px solid rgba(0,0,0,0.13);border-radius:6px;background:rgba(255,255,255,0.5);background-clip:padding-box"></div><svg style="position:absolute;left:42.5px;top:440.5px" width="17" height="17" viewBox="0 0 17 17"><path d="M2 2L15 15M15 2L2 15" stroke="#667075" stroke-width="3.3"/></svg><div style="position:absolute;left:869px;top:472.7px;width:507px;height:27.3px;background:rgba(255,255,255,0.8)"></div></div>
<div class="t" style="left:644.8px;top:466.8px;font-family:'Liberation Sans', Arial, sans-serif;font-size:23.11px;font-weight:700;line-height:23.11px;color:#fff;transform:scaleX(0.9411);transform-origin:0 0;">Select an area</div>
<div class="t" style="left:649.3px;top:557.6px;font-family:'Liberation Sans', Arial, sans-serif;font-size:22.09px;font-weight:400;line-height:22.09px;color:#667075;transform:scaleX(1.0453);transform-origin:0 0;">Clear map selections</div>
<div class="t" style="left:1456.6px;top:599.9px;font-family:'Liberation Sans', Arial, sans-serif;font-size:19.04px;font-weight:400;line-height:19.04px;color:#333;transform:scaleX(0.9506);transform-origin:0 0;"><span style="color:#4a7fb5">Leaflet</span> | Map data © <span style="color:#4a7fb5">OpenStreetMap</span> contributors, <span style="color:#4a7fb5">CC-BY-SA</span></div>
<div style="position:absolute;left:579.0px;top:621.0px;width:1376.0px;height:50.0px;background:#dcebf1"></div>
<svg style="position:absolute;left:596px;top:631px" width="33" height="33" viewBox="-16.5 -16.5 33 33"><circle r="13.2" fill="none" stroke="#d24454" stroke-width="2.3"/><text x="-0.5" y="7.5" text-anchor="middle" font-family="Liberation Serif, serif" font-style="italic" font-size="22" fill="#d24454">i</text></svg>
<div class="t" style="left:641.1px;top:635.7px;font-family:'Liberation Sans', Arial, sans-serif;font-size:23.98px;font-weight:400;line-height:23.98px;color:#222;transform:scaleX(0.9851);transform-origin:0 0;">15 records without coordinates are shown in grey on top of their providing institutions.</div>
<div class="t" style="left:584.5px;top:699.7px;font-family:'Liberation Sans', Arial, sans-serif;font-size:31.10px;font-weight:700;line-height:31.10px;color:#000;transform:scaleX(0.9556);transform-origin:0 0;">Timeline</div>
<svg style="position:absolute;left:773.1px;top:697.9px" width="36.4" height="36.4" viewBox="-18.2 -18.2 36.4 36.4"><circle r="15.05" fill="none" stroke="#d24454" stroke-width="2.3"/><g transform="scale(1.012)"><path d="M-4.5 -5.2C-4.5 -8.5 -2 -9.7 0.4 -9.7C3.3 -9.7 5.3 -7.8 5.3 -5.2C5.3 -2.3 0.2 -1.8 0.2 1.8V3.2" fill="none" stroke="#d24454" stroke-width="2.9"/><circle cx="0.3" cy="7.6" r="1.9" fill="#d24454"/></g></svg>
<svg style="position:absolute;left:1919.3px;top:704.3px" width="29.4" height="29.4" viewBox="-14.7 -14.7 29.4 29.4"><circle r="13.7" fill="#d24454"/><path d="M-7.3 3.2 L0 -4.1 L7.3 3.2" stroke="#fff" stroke-width="3.6" fill="none"/></svg>
<div style="position:absolute;left:579.0px;top:748.0px;width:1376.0px;height:235.0px;background:#fff"></div>
<svg style="position:absolute;left:579px;top:748px" width="1376" height="235" viewBox="579 748 1376 235"><rect x="630.75" y="761.3" width="1.5" height="138.5" fill="#d6d6d4"/><rect x="735.75" y="761.3" width="1.5" height="138.5" fill="#d6d6d4"/><rect x="840.75" y="761.3" width="1.5" height="138.5" fill="#d6d6d4"/><rect x="945.75" y="761.3" width="1.5" height="138.5" fill="#d6d6d4"/><rect x="1050.75" y="761.3" width="1.5" height="138.5" fill="#d6d6d4"/><rect x="1155.75" y="761.3" width="1.5" height="138.5" fill="#d6d6d4"/><rect x="1260.75" y="761.3" width="1.5" height="138.5" fill="#d6d6d4"/><rect x="1365.75" y="761.3" width="1.5" height="138.5" fill="#d6d6d4"/><rect x="1470.75" y="761.3" width="1.5" height="138.5" fill="#d6d6d4"/><rect x="1575.75" y="761.3" width="1.5" height="138.5" fill="#d6d6d4"/><rect x="1680.75" y="761.3" width="1.5" height="138.5" fill="#d6d6d4"/><rect x="1785.75" y="761.3" width="1.5" height="138.5" fill="#d6d6d4"/><rect x="1890.75" y="761.3" width="1.5" height="138.5" fill="#d6d6d4"/><path fill="#581f91" d="M704.2 896.3H717.8V899.8H704.2ZM903.4 896.1H1071.3V899.8H903.4ZM1071.3 891.8H1085.0V899.8H1071.3ZM1085.0 896.1H1176.2V899.8H1085.0ZM1176.2 887.9H1190.0V899.8H1176.2ZM1190.0 893.9H1197.5V899.8H1190.0ZM1197.5 883.5H1211.0V899.8H1197.5ZM1211.0 896.1H1218.8V899.8H1211.0ZM1218.8 893.9H1232.3V899.8H1218.8ZM1232.3 896.1H1239.3V899.8H1232.3ZM1239.3 885.7H1253.1V899.8H1239.3ZM1253.1 896.1H1260.7V899.8H1253.1ZM1260.7 871.0H1274.1V899.8H1260.7ZM1274.1 896.1H1292.2V899.8H1274.1ZM1292.2 891.8H1305.6V899.8H1292.2ZM1305.6 896.1H1313.5V899.8H1305.6ZM1313.5 893.9H1326.6V899.8H1313.5ZM1326.6 896.1H1334.0V899.8H1326.6ZM1334.0 883.5H1347.7V899.8H1334.0ZM1347.7 893.9H1357.7V899.8H1347.7ZM1365.5 885.7H1375.8V899.8H1365.5ZM1375.8 885.0H1386.8V899.8H1375.8ZM1386.8 871.0H1400.2V899.8H1386.8ZM1400.2 874.9H1410.8V899.8H1400.2ZM1410.8 877.1H1421.2V899.8H1410.8ZM1421.2 881.6H1431.8V899.8H1421.2ZM1431.8 885.7H1438.9V899.8H1431.8ZM1438.9 868.9H1449.6V899.8H1438.9ZM1449.6 866.9H1463.4V899.8H1449.6ZM1463.4 868.9H1473.6V899.8H1463.4ZM1473.6 885.7H1491.8V899.8H1473.6ZM1491.8 881.6H1502.0V899.8H1491.8ZM1502.0 879.3H1515.9V899.8H1502.0ZM1515.9 885.7H1523.3V899.8H1515.9ZM1523.3 883.5H1533.6V899.8H1523.3ZM1533.6 881.6H1543.8V899.8H1533.6ZM1543.8 879.3H1554.9V899.8H1543.8ZM1554.9 759.8H1568.0V899.8H1554.9ZM1568.0 885.7H1578.5V899.8H1568.0ZM1578.5 893.9H1588.8V899.8H1578.5ZM1588.8 896.1H1599.8V899.8H1588.8ZM1606.9 893.9H1620.7V899.8H1606.9ZM1627.9 866.9H1641.7V899.8H1627.9ZM1649.1 887.9H1662.6V899.8H1649.1ZM1662.6 896.1H1673.2V899.8H1662.6ZM1680.5 891.8H1705.0V899.8H1680.5ZM1712.0 896.1H1722.8V899.8H1712.0ZM1722.8 887.9H1736.2V899.8H1722.8ZM1774.9 893.9H1788.6V899.8H1774.9ZM1817.0 896.1H1830.7V899.8H1817.0Z"/><g fill="none" stroke="#d24454" stroke-width="2.9"><circle cx="618.8" cy="960.2" r="12.9"/><path d="M628.3 970 L635.6 977.3" stroke-width="3.4" stroke-linecap="round"/><path d="M612.3 960.2h12.4M618.5 954v12.4"/><circle cx="662.4" cy="960.2" r="12.9"/><path d="M671.9 970 L679.2 977.3" stroke-width="3.4" stroke-linecap="round"/><path d="M656 960.2h12.2"/></g><path d="M697.8 962.3 L718.2 948.8 L718.2 975.4Z" fill="#d24454"/><path d="M741 948.8 L761.4 962.3 L741 975.4Z" fill="#d24454"/></svg>
<div class="t" style="left:611.4px;top:916.0px;font-family:'Liberation Sans', Arial, sans-serif;font-size:19.19px;font-weight:400;line-height:19.19px;color:#505050;transform:scaleX(0.9441);transform-origin:0 0;">1860</div>
<div class="t" style="left:716.4px;top:916.0px;font-family:'Liberation Sans', Arial, sans-serif;font-size:19.19px;font-weight:400;line-height:19.19px;color:#505050;transform:scaleX(0.9441);transform-origin:0 0;">1870</div>
<div class="t" style="left:821.4px;top:916.0px;font-family:'Liberation Sans', Arial, sans-serif;font-size:19.19px;font-weight:400;line-height:19.19px;color:#505050;transform:scaleX(0.9441);transform-origin:0 0;">1880</div>
<div class="t" style="left:926.4px;top:916.0px;font-family:'Liberation Sans', Arial, sans-serif;font-size:19.19px;font-weight:400;line-height:19.19px;color:#505050;transform:scaleX(0.9441);transform-origin:0 0;">1890</div>
<div class="t" style="left:1031.3px;top:916.0px;font-family:'Liberation Sans', Arial, sans-serif;font-size:19.19px;font-weight:400;line-height:19.19px;color:#505050;transform:scaleX(0.9441);transform-origin:0 0;">1900</div>
<div class="t" style="left:1136.3px;top:916.0px;font-family:'Liberation Sans', Arial, sans-serif;font-size:19.19px;font-weight:400;line-height:19.19px;color:#505050;transform:scaleX(0.9441);transform-origin:0 0;">1910</div>
<div class="t" style="left:1241.3px;top:916.0px;font-family:'Liberation Sans', Arial, sans-serif;font-size:19.19px;font-weight:400;line-height:19.19px;color:#505050;transform:scaleX(0.9441);transform-origin:0 0;">1920</div>
<div class="t" style="left:1346.3px;top:916.0px;font-family:'Liberation Sans', Arial, sans-serif;font-size:19.19px;font-weight:400;line-height:19.19px;color:#505050;transform:scaleX(0.9441);transform-origin:0 0;">1930</div>
<div class="t" style="left:1451.3px;top:916.0px;font-family:'Liberation Sans', Arial, sans-serif;font-size:19.19px;font-weight:400;line-height:19.19px;color:#505050;transform:scaleX(0.9441);transform-origin:0 0;">1940</div>
<div class="t" style="left:1556.3px;top:916.0px;font-family:'Liberation Sans', Arial, sans-serif;font-size:19.19px;font-weight:400;line-height:19.19px;color:#505050;transform:scaleX(0.9441);transform-origin:0 0;">1950</div>
<div class="t" style="left:1661.3px;top:916.0px;font-family:'Liberation Sans', Arial, sans-serif;font-size:19.19px;font-weight:400;line-height:19.19px;color:#505050;transform:scaleX(0.9441);transform-origin:0 0;">1960</div>
<div class="t" style="left:1766.3px;top:916.0px;font-family:'Liberation Sans', Arial, sans-serif;font-size:19.19px;font-weight:400;line-height:19.19px;color:#505050;transform:scaleX(0.9441);transform-origin:0 0;">1970</div>
<div class="t" style="left:1871.3px;top:916.0px;font-family:'Liberation Sans', Arial, sans-serif;font-size:19.19px;font-weight:400;line-height:19.19px;color:#505050;transform:scaleX(0.9441);transform-origin:0 0;">1980</div>
<div class="t" style="left:579.7px;top:1008.4px;font-family:'Liberation Sans', Arial, sans-serif;font-size:23.98px;font-weight:400;line-height:23.98px;color:#111;transform:scaleX(0.9515);transform-origin:0 0;">Time period in years:</div>
<div style="position:absolute;left:816.4px;top:991.4px;width:91.8px;height:56.8px;box-sizing:border-box;border:1.3px solid #c4c4c2;border-radius:7px;background:#fff"></div>
<div style="position:absolute;left:944.5px;top:991.4px;width:91.8px;height:56.8px;box-sizing:border-box;border:1.3px solid #c4c4c2;border-radius:7px;background:#fff"></div>
<div style="position:absolute;left:920.3px;top:1020.2px;width:12.1px;height:2.0px;background:#222"></div>
<div style="position:absolute;left:1817px;top:998.8px;width:138px;height:57.2px;border-radius:6px;background:#d24454"></div>
<svg style="position:absolute;left:1826px;top:1014px" width="30" height="30" viewBox="1826 1014 30 30"><circle cx="1838.1" cy="1026.3" r="7.6" fill="none" stroke="#fff" stroke-width="3.3"/><path d="M1843.4 1031.8 L1850 1038.6" stroke="#fff" stroke-width="4.2"/></svg>
<div class="t" style="left:1865.0px;top:1017.1px;font-family:'Liberation Sans', Arial, sans-serif;font-size:23.69px;font-weight:700;line-height:23.69px;color:#fff;transform:scaleX(0.9716);transform-origin:0 0;">Update</div>
<div class="t" style="left:567.5px;top:1097.3px;font-family:'Liberation Sans', Arial, sans-serif;font-size:21.95px;font-weight:400;line-height:21.95px;color:#222;transform:scaleX(0.9596);transform-origin:0 0;">Showing <b>1 - 24</b> results of <b>222</b></div>
<svg style="position:absolute;left:846px;top:1089px" width="38" height="38" viewBox="-19 -19 38 38"><circle r="17.9" fill="#d24454"/><path d="M-8 0.3h15M1.3 -6 L7.6 0.3 L1.3 6.6" stroke="#fff" stroke-width="2.6" fill="none"/></svg>
<div class="t" style="left:921.7px;top:1098.4px;font-family:'Liberation Sans', Arial, sans-serif;font-size:21.51px;font-weight:400;line-height:21.51px;color:#222;transform:scaleX(0.9382);transform-origin:0 0;">Sort</div>
<div style="position:absolute;left:970.8px;top:1080.4px;width:154.1px;height:52.5px;box-sizing:border-box;border:2.9px solid #d24454;border-radius:8px;background:#fff"></div>
<div class="t" style="left:990.7px;top:1098.3px;font-family:'Liberation Sans', Arial, sans-serif;font-size:21.51px;font-weight:400;line-height:21.51px;color:#d0405a;transform:scaleX(0.9154);transform-origin:0 0;">Relevance</div>
<svg style="position:absolute;left:1096px;top:1104px" width="16" height="13"><path d="M1.2 0.5H14.8L8 12Z" fill="#d24454"/></svg>
<div class="t" style="left:1137.9px;top:1098.4px;font-family:'Liberation Sans', Arial, sans-serif;font-size:21.51px;font-weight:400;line-height:21.51px;color:#222;transform:scaleX(0.9327);transform-origin:0 0;">Results per page</div>
<div style="position:absolute;left:1301.4px;top:1080.4px;width:84.8px;height:52.5px;box-sizing:border-box;border:2.9px solid #d24454;border-radius:8px;background:#fff"></div>
<div class="t" style="left:1321.6px;top:1098.3px;font-family:'Liberation Sans', Arial, sans-serif;font-size:21.51px;font-weight:400;line-height:21.51px;color:#d0405a;transform:scaleX(0.9280);transform-origin:0 0;">24</div>
<svg style="position:absolute;left:1356px;top:1104px" width="16" height="13"><path d="M1.2 0.5H14.8L8 12Z" fill="#d24454"/></svg>
<div class="t" style="left:1757.6px;top:1101.6px;font-family:'Liberation Sans', Arial, sans-serif;font-size:21.51px;font-weight:400;line-height:21.51px;color:#222;transform:scaleX(0.9009);transform-origin:0 0;">Show as</div>
<div style="position:absolute;left:1844.1px;top:1080.2px;width:61.5px;height:51.6px;box-sizing:border-box;border:2.9px solid #d24454;border-radius:9px;background:#fff"></div>
<svg style="position:absolute;left:1855px;top:1088px" width="110" height="40" viewBox="1855 1088 110 40" fill="#d24454"><rect x="1860.2" y="1091.9" width="11.1" height="11"/><rect x="1878.1" y="1091.9" width="11" height="11"/><rect x="1860.2" y="1109.7" width="11.1" height="11"/><rect x="1878.1" y="1109.7" width="11" height="11"/><rect x="1919.8" y="1091.9" width="11.1" height="11"/><rect x="1919.8" y="1108" width="11.1" height="11"/><g stroke="#d24454" stroke-width="2.9" stroke-linecap="round"><path d="M1936.4 1093.3h21M1936.4 1101h21M1936.4 1109.5h21M1936.4 1117.6h21"/></g></svg>
<div style="position:absolute;left:575px;top:1168px;width:446px;height:437.5px;overflow:hidden;background:linear-gradient(#f3f5f1 0,#f3f5f1 86%,#eef0ec 88%,#eef0ec 100%)"><div style="position:absolute;left:-40px;top:-30px;width:380px;height:420px;border-radius:60px;background:rgba(255,255,255,0.1)"></div><div style="position:absolute;left:75px;top:-20px;width:250px;height:200px;border-radius:40px;background:rgba(255,255,255,0.08)"></div></div>
<div style="position:absolute;left:575px;top:1168px;width:446px;height:437.5px;overflow:hidden">
<div class="t" style="left:7.4px;top:12.0px;font-family:'Liberation Sans', Arial, sans-serif;font-size:94.91px;font-weight:400;line-height:94.91px;color:#d0d1ce;">Direktorate</div>
<div class="t" style="left:1.6px;top:94.6px;font-family:'Liberation Sans', Arial, sans-serif;font-size:70.00px;font-weight:400;line-height:70.00px;color:#dfe0dd;transform:scaleX(1.0264);transform-origin:0 0;">vilt og</div>
<div class="t" style="left:1.6px;top:165.3px;font-family:'Liberation Sans', Arial, sans-serif;font-size:70.00px;font-weight:400;line-height:70.00px;color:#dfe0dd;transform:scaleX(1.0350);transform-origin:0 0;">ferskvannsfisk</div>
<div class="t" style="left:151.5px;top:12.5px;font-family:'Liberation Sans', Arial, sans-serif;font-size:16.13px;font-weight:400;letter-spacing:2.00px;line-height:16.13px;color:#a8a9a7;transform:scaleX(0.8936);transform-origin:0 0;-webkit-text-stroke:0;">ARCHIVAL UNIT / NO THUMBNAIL</div>
</div>
<div class="t" style="left:587.2px;top:1618.7px;font-family:'Liberation Sans', Arial, sans-serif;font-size:27.47px;font-weight:700;line-height:27.47px;color:#d0405a;transform:scaleX(0.9777);transform-origin:0 0;">Direktoratet for vilt og fersksva<span style="color:#222">...</span></div>
<div class="t" style="left:739.3px;top:1653.0px;font-family:'Liberation Sans', Arial, sans-serif;font-size:22.53px;font-weight:400;line-height:22.53px;color:#222;transform:scaleX(1.0381);transform-origin:0 0;">1886–1924</div>
<div class="t" style="left:611.6px;top:1682.6px;font-family:'Liberation Sans', Arial, sans-serif;font-size:24.13px;font-weight:400;letter-spacing:1.00px;line-height:24.13px;color:#222;transform:scaleX(0.9782);transform-origin:0 0;">The National Archives of Norway</div>
<svg style="position:absolute;left:1037px;top:1219px" width="446" height="330" viewBox="0 0 446 330"><defs><linearGradient id="p1sky" x1="0" y1="0" x2="0" y2="1"><stop offset="0" stop-color="#d9d9d7"/><stop offset="1" stop-color="#e1e1df"/></linearGradient><linearGradient id="p1hill" x1="0" y1="0" x2="0" y2="1"><stop offset="0" stop-color="#9a9a95"/><stop offset="0.35" stop-color="#83837f"/><stop offset="0.65" stop-color="#555552"/><stop offset="1" stop-color="#40403d"/></linearGradient><linearGradient id="p1gr" x1="0" y1="0" x2="1" y2="0.3"><stop offset="0" stop-color="#c4c4bf"/><stop offset="0.3" stop-color="#b2b2ad"/><stop offset="0.6" stop-color="#a4a49f"/><stop offset="1" stop-color="#a8a8a3"/></linearGradient><filter id="p1n" x="0" y="0" width="100%" height="100%" color-interpolation-filters="sRGB"><feTurbulence type="fractalNoise" baseFrequency="0.5" numOctaves="3" seed="3" result="n"/><feColorMatrix in="n" type="matrix" values="1 0 0 0 0  1 0 0 0 0  1 0 0 0 0  0 0 0 0 1" result="g"/><feComponentTransfer in="g"><feFuncR type="linear" slope="2.0" intercept="-0.5"/><feFuncG type="linear" slope="2.0" intercept="-0.5"/><feFuncB type="linear" slope="2.0" intercept="-0.5"/></feComponentTransfer></filter><filter id="p1m" x="0" y="0" width="100%" height="100%" color-interpolation-filters="sRGB"><feTurbulence type="fractalNoise" baseFrequency="0.15" numOctaves="3" seed="11" result="n"/><feColorMatrix in="n" type="matrix" values="1 0 0 0 0  1 0 0 0 0  1 0 0 0 0  0 0 0 0 1" result="g"/><feComponentTransfer in="g"><feFuncR type="linear" slope="1.8" intercept="-0.4"/><feFuncG type="linear" slope="1.8" intercept="-0.4"/><feFuncB type="linear" slope="1.8" intercept="-0.4"/></feComponentTransfer></filter><clipPath id="p1c"><rect width="446" height="330"/></clipPath></defs><g clip-path="url(#p1c)"><rect width="446" height="330" fill="url(#p1sky)"/><polygon points="0.0,97.0 20.0,96.0 86.7,90.3 153.0,91.4 220.0,97.0 286.4,100.0 300.0,104.0 300.0,156.0 0.0,156.0" fill="url(#p1hill)"/><rect x="0" y="92" width="300" height="62" fill="#000" opacity="0.5" style="mix-blend-mode:overlay" filter="url(#p1m)"/><polygon points="393.0,84.7 420.0,82.0 446.0,82.5 446.0,156.0 425.0,152.0 405.0,110.0" fill="#3f3f3c"/><polygon points="405.0,110.0 425.0,152.0 446.0,156.0 446.0,200.0 430.0,190.0" fill="#8e8e8a"/><g fill="#7a7a76" opacity="0.85"><ellipse cx="166" cy="58" rx="16" ry="24"/><ellipse cx="150" cy="80" rx="16" ry="14"/><ellipse cx="186" cy="86" rx="22" ry="18"/></g><g fill="#4e4e4b" opacity="0.9"><ellipse cx="172" cy="120" rx="32" ry="28"/><ellipse cx="150" cy="110" rx="14" ry="16"/><ellipse cx="198" cy="118" rx="14" ry="18"/></g><rect x="170.5" y="120" width="2.5" height="38" fill="#c9c9c4"/><rect x="174.5" y="126" width="2" height="32" fill="#bdbdb8"/><polygon points="0.0,150.0 60.0,148.0 153.0,150.0 160.0,164.0 100.0,165.0 0.0,166.0" fill="#cfcfcb"/><polygon points="153.0,150.0 300.0,150.0 300.0,170.0 160.0,166.0" fill="#5a5a56"/><polygon points="0.0,165.0 60.0,163.0 150.0,166.0 220.0,172.0 262.0,178.0 262.0,214.0 0.0,214.0" fill="#aeaeaa"/><ellipse cx="70" cy="190" rx="18" ry="8" fill="#2e2e2c"/><ellipse cx="40" cy="196" rx="30" ry="6" fill="#8a8a86"/><ellipse cx="140" cy="190" rx="20" ry="18" fill="#bdbdb8"/><ellipse cx="145" cy="175" rx="7" ry="7" fill="#3a3a38"/><ellipse cx="186" cy="186" rx="16" ry="22" fill="#b7b7b2"/><ellipse cx="184" cy="168" rx="7" ry="7" fill="#4a4a47"/><ellipse cx="150" cy="208" rx="36" ry="5" fill="#6a6a66"/><ellipse cx="220" cy="206" rx="32" ry="7" fill="#6a6a66"/><ellipse cx="110" cy="204" rx="22" ry="5" fill="#8a8a86"/><polygon points="0.0,212.0 120.0,214.0 262.0,210.0 446.0,214.0 446.0,330.0 0.0,330.0" fill="url(#p1gr)"/><rect x="0" y="210" width="446" height="120" fill="#000" opacity="0.45" style="mix-blend-mode:overlay" filter="url(#p1n)"/><g fill="#5a5a56" opacity="0.7"><ellipse cx="30" cy="262" rx="14" ry="4"/><ellipse cx="120" cy="254" rx="12" ry="4"/><ellipse cx="210" cy="245" rx="14" ry="4"/><ellipse cx="260" cy="290" rx="10" ry="5"/><ellipse cx="100" cy="300" rx="16" ry="6"/><ellipse cx="180" cy="318" rx="14" ry="5"/><ellipse cx="330" cy="300" rx="10" ry="4"/></g><polygon points="255.4,203.0 295.3,98.0 344.0,93.6 339.7,107.0 293.0,197.0 300.0,203.0" fill="#c3c3be"/><polygon points="339.7,107.0 293.0,197.0 332.0,197.0" fill="#232321"/><polygon points="346.3,93.6 393.0,88.1 445.0,191.2 445.0,205.0 372.0,214.0 331.0,200.0 335.3,151.3 344.1,107.0" fill="#e5e5e1"/><polygon points="346.3,93.6 352.0,96.0 368.0,205.0 360.0,208.0 342.0,110.0" fill="#cfcfca"/><rect x="299" y="0" width="1.6" height="212" fill="#5e5e5b"/><rect x="314" y="198" width="38" height="20" rx="4" fill="#2a2a28"/><rect x="352" y="203" width="22" height="13" rx="4" fill="#4e4e4b"/></g></svg>
<div class="t" style="left:1049.0px;top:1613.2px;font-family:'Liberation Sans', Arial, sans-serif;font-size:27.47px;font-weight:700;line-height:27.47px;color:#d0405a;transform:scaleX(0.9673);transform-origin:0 0;">tunturilappalaisia Friisin teltan <span style="color:#222">...</span></div>
<div class="t" style="left:1158.7px;top:1648.0px;font-family:'Liberation Sans', Arial, sans-serif;font-size:22.38px;font-weight:400;letter-spacing:0.80px;line-height:22.38px;color:#222;transform:scaleX(0.9612);transform-origin:0 0;">Friis, J. A. , kuvaaja</div>
<div class="t" style="left:1235.2px;top:1679.1px;font-family:'Liberation Sans', Arial, sans-serif;font-size:22.38px;font-weight:400;line-height:22.38px;color:#222;">1867</div>
<div class="t" style="left:1098.0px;top:1709.4px;font-family:'Liberation Sans', Arial, sans-serif;font-size:22.67px;font-weight:400;letter-spacing:1.00px;line-height:22.67px;color:#222;transform:scaleX(1.0208);transform-origin:0 0;">The Finnish Heritage Agency</div>
<svg style="position:absolute;left:1499px;top:1228px" width="446" height="312" viewBox="0 0 446 312"><defs><linearGradient id="p2sky" x1="0" y1="0" x2="0" y2="1"><stop offset="0" stop-color="#c8c8c6"/><stop offset="1" stop-color="#dcdcda"/></linearGradient><linearGradient id="p2w" x1="0" y1="0" x2="0" y2="1"><stop offset="0" stop-color="#868684"/><stop offset="0.3" stop-color="#a09f9d"/><stop offset="0.6" stop-color="#b3b3b0"/><stop offset="1" stop-color="#b0b0ad"/></linearGradient><radialGradient id="p2v" cx="0.5" cy="0.45" r="0.75"><stop offset="0.7" stop-color="#000" stop-opacity="0"/><stop offset="1" stop-color="#000" stop-opacity="0.28"/></radialGradient><filter id="p2n" x="0" y="0" width="100%" height="100%" color-interpolation-filters="sRGB"><feTurbulence type="fractalNoise" baseFrequency="0.35" numOctaves="3" seed="7" result="n"/><feColorMatrix in="n" type="matrix" values="1 0 0 0 0  1 0 0 0 0  1 0 0 0 0  0 0 0 0 1" result="g"/><feComponentTransfer in="g"><feFuncR type="linear" slope="1.8" intercept="-0.4"/><feFuncG type="linear" slope="1.8" intercept="-0.4"/><feFuncB type="linear" slope="1.8" intercept="-0.4"/></feComponentTransfer></filter><filter id="p2m" x="0" y="0" width="100%" height="100%" color-interpolation-filters="sRGB"><feTurbulence type="fractalNoise" baseFrequency="0.06" numOctaves="3" seed="5" result="n"/><feColorMatrix in="n" type="matrix" values="1 0 0 0 0  1 0 0 0 0  1 0 0 0 0  0 0 0 0 1" result="g"/><feComponentTransfer in="g"><feFuncR type="linear" slope="1.6" intercept="-0.30000000000000004"/><feFuncG type="linear" slope="1.6" intercept="-0.30000000000000004"/><feFuncB type="linear" slope="1.6" intercept="-0.30000000000000004"/></feComponentTransfer></filter><filter id="p2r" x="0" y="0" width="100%" height="100%" color-interpolation-filters="sRGB"><feTurbulence type="fractalNoise" baseFrequency="0.015 0.25" numOctaves="3" seed="9" result="n"/><feColorMatrix in="n" type="matrix" values="1 0 0 0 0  1 0 0 0 0  1 0 0 0 0  0 0 0 0 1" result="g"/><feComponentTransfer in="g"><feFuncR type="linear" slope="1.6" intercept="-0.30000000000000004"/><feFuncG type="linear" slope="1.6" intercept="-0.30000000000000004"/><feFuncB type="linear" slope="1.6" intercept="-0.30000000000000004"/></feComponentTransfer></filter><clipPath id="p2c"><rect width="446" height="312"/></clipPath></defs><g clip-path="url(#p2c)"><rect width="446" height="312" fill="url(#p2sky)"/><rect x="0" y="0" width="446" height="50" fill="#000" opacity="0.15" style="mix-blend-mode:overlay" filter="url(#p2m)"/><g fill="#8f8f8d" opacity="0.8"><ellipse cx="315" cy="15" rx="14" ry="9"/><ellipse cx="340" cy="24" rx="12" ry="8"/><ellipse cx="377" cy="20" rx="12" ry="12"/></g><clipPath id="p2hc"><polygon points="0.0,35.0 60.0,33.0 130.6,30.7 180.0,31.0 220.4,34.0 276.5,41.9 321.3,50.8 380.0,51.0 446.0,50.8 446.0,130.0 0.0,130.0"/></clipPath><g clip-path="url(#p2hc)"><rect x="0" y="25" width="446" height="110" fill="#4e4e4c"/><polygon points="0.0,53.0 60.0,55.0 120.0,62.0 153.0,72.0 180.0,82.0 150.0,88.0 80.0,88.0 0.0,86.0" fill="#737370"/><polygon points="180.0,72.0 260.0,74.0 330.0,76.0 400.0,80.0 446.0,80.0 446.0,96.0 180.0,96.0" fill="#5e5e5b"/><polygon points="0.0,87.0 80.0,86.0 170.0,90.0 276.0,94.0 240.0,102.0 120.0,104.0 0.0,102.0" fill="#aaaaa6"/><polygon points="0.0,102.0 446.0,95.0 446.0,129.0 0.0,129.0" fill="#3f3f3d"/><rect x="0" y="25" width="446" height="110" fill="#000" opacity="0.3" style="mix-blend-mode:overlay" filter="url(#p2n)"/></g><polygon points="0.0,129.0 446.0,127.0 446.0,312.0 0.0,312.0" fill="url(#p2w)"/><rect x="0" y="129" width="446" height="140" fill="#000" opacity="0.18" style="mix-blend-mode:overlay" filter="url(#p2r)"/><polygon points="130.0,312.0 170.0,302.0 210.0,294.0 250.0,286.0 290.0,280.0 446.0,272.0 446.0,312.0" fill="#5a5a56"/><ellipse cx="330" cy="258" rx="53" ry="38" fill="#5c5c59"/><ellipse cx="394" cy="244" rx="31" ry="27" fill="#626260"/><ellipse cx="240" cy="272" rx="20" ry="12" fill="#767673"/><ellipse cx="210" cy="288" rx="16" ry="9" fill="#6e6e6b"/><ellipse cx="20" cy="300" rx="32" ry="30" fill="#5a5a57"/><rect width="446" height="312" fill="url(#p2v)"/></g></svg>
<div class="t" style="left:1510.7px;top:1613.2px;font-family:'Liberation Sans', Arial, sans-serif;font-size:27.47px;font-weight:700;line-height:27.47px;color:#d0405a;transform:scaleX(0.9654);transform-origin:0 0;">lohiverkkoa l. "harvaa" lasketaa<span style="color:#222">...</span></div>
<div class="t" style="left:1538.0px;top:1648.0px;font-family:'Liberation Sans', Arial, sans-serif;font-size:22.38px;font-weight:400;letter-spacing:0.80px;line-height:22.38px;color:#222;transform:scaleX(1.0295);transform-origin:0 0;">Itkonen, Toivo Immanuel, kuvaaja</div>
<div class="t" style="left:1696.4px;top:1679.1px;font-family:'Liberation Sans', Arial, sans-serif;font-size:22.38px;font-weight:400;line-height:22.38px;color:#222;transform:scaleX(1.0205);transform-origin:0 0;">1914</div>
<div class="t" style="left:1559.8px;top:1709.4px;font-family:'Liberation Sans', Arial, sans-serif;font-size:22.67px;font-weight:400;letter-spacing:1.00px;line-height:22.67px;color:#222;transform:scaleX(1.0201);transform-origin:0 0;">The Finnish Heritage Agency</div>
<div style="position:absolute;left:1589.3px;top:1767.5px;width:265.0px;height:2.5px;background:#a3a3a1"></div>
</body></html>
